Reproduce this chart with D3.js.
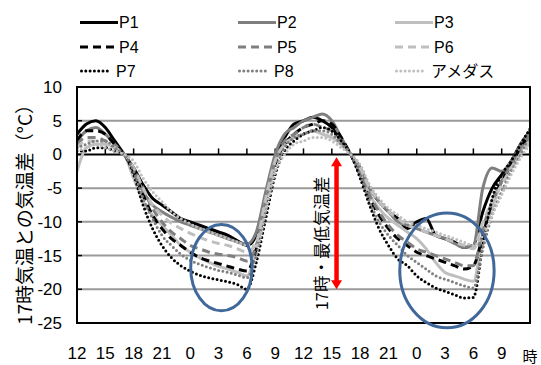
<!DOCTYPE html>
<html><head><meta charset="utf-8">
<script src="https://cdn.jsdelivr.net/npm/d3@7"></script>
<style>
html,body{margin:0;padding:0;background:#fff;}
svg{display:block;}
</style></head>
<body>
<svg id="chart" width="541" height="365"></svg>
<script>
const hours = [0,1,2,3,4,5,6,7,8,9,10,11,12,13,14,15,16,17,18,19,20,21,22,23,24,25,26,27,28,29,30,31,32,33,34,35,36,37,38,39,40,41,42,43,44,45,46,47,48];
const hourLabels = ["12","15","18","21","0","3","6","9","12","15","18","21","0","3","6","9","時"];
const yTicks = [10,5,0,-5,-10,-15,-20,-25];
const seriesNames = ["P1","P2","P3","P4","P5","P6","P7","P8","アメダス"];

const P1 = [3,4.5,5,4,2,0, -2,-4.5,-6.5,-7.5,-8.5,-9.5,-10,-10.5,-11,-11.5,-12,-12.8,-13.5, -12,-6,-0.5,2.5,4.5,5,5.5,5,4,2,0, -2,-5,-7,-8.5,-9.5,-11,-10,-9.5,-12,-12.5,-13,-13.8,-13.5, -8.5,-5,-3,-1,1.5,3.5];
const P2 = [2,3.5,4,3,1.5,0, -2.5,-5.5,-7.5,-8.5,-9.3,-10,-10.5,-11,-11.5,-12,-12.5,-13,-13.3, -11.5,-5.5,0,3,4,5,5.5,6,5,2.5,0, -2,-5,-7,-8.5,-10,-10.5,-11,-11.5,-12,-12.5,-13.2,-13.8,-13.5, -5,-2,-2.5,-1,1.5,3.5];
const P3 = [-2.5,1,1.5,1.5,1,0, -3.5,-7,-9,-10.5,-12,-13.5,-14.5,-15.3,-16,-16.6,-17,-17.5,-18, -14,-7,-1,1.5,2.5,3,3.5,3,2.5,1.5,0, -3,-6,-8,-9.5,-10.5,-11.5,-12.5,-14,-16,-17.5,-18,-18.5,-18.8, -12,-8,-4,-2,0.5,2.5];
const P4 = [2,3.5,3.5,3,1.5,0, -2.5,-6,-9,-11,-12.5,-13.5,-14.5,-15.3,-15.8,-16.2,-16.6,-17,-17.3, -14,-7.5,-1.5,1.5,3,4,4.5,5,4.5,2.5,0, -3,-6.5,-9,-11,-12.5,-13.5,-14.5,-15,-15.5,-16,-16.5,-17,-16.5, -12,-7,-4,-1.5,1,3];
const P5 = [1.5,2.5,2.5,2,1,0, -2,-5,-8,-10,-11.5,-12.5,-13.5,-14,-14.5,-14.8,-15,-15.3,-15.8, -13.5,-7,-1,2,3,4,4.5,4,3.5,2,0, -2.5,-6,-8.5,-10.5,-12,-13,-14,-14.5,-15,-15.5,-16,-16.5,-16.5, -11,-7,-4,-1.5,1,3];
const P6 = [1,2,2,1.5,1,0, -2,-5,-7.5,-9,-10.2,-11,-11.7,-12.3,-12.8,-13.2,-13.5,-14,-14.5, -13,-6.5,-1,1.5,2.5,3,3.5,3,2.5,1.5,0, -2,-5,-7,-8.5,-9.5,-10.5,-11,-11.5,-12,-12.5,-13,-13.5,-14, -10,-7,-4.5,-2,0,2];
const P7 = [0.5,0.5,1,1,0.5,0, -3,-7.5,-11,-13.5,-15.3,-16.5,-17.3,-17.9,-18.3,-18.6,-18.9,-19.3,-20, -16,-9.5,-3,0.5,2,3,3.5,4,3.5,2,0, -3.5,-7.5,-11,-13.5,-15.5,-16.5,-18,-19,-19.8,-20.3,-20.8,-21.3,-21.2, -13.5,-6.5,-3,-1,1.5,3.8];
const P8 = [1,1.5,2,2,1,0, -2.5,-6.5,-9.5,-12,-13.5,-14.8,-15.7,-16.3,-16.8,-17.2,-17.5,-17.9,-18.3, -15,-8.5,-2.5,1,2.5,3,3.5,3.5,3,1.5,0, -3,-7,-10,-12,-13.5,-15,-16,-17,-18,-18.5,-19,-19.5,-19.8, -14,-9,-5.5,-2.5,0,3];
const AMeDAS = [0.5,1,1.5,1,0.5,0, -1,-3.5,-5.5,-7,-8.5,-9.5,-10.3,-11,-11.5,-12,-12.5,-13,-13.5, -13.5,-8,-2.5,0,1.5,2,2.5,2.5,2,1,0, -1.5,-4.5,-6.5,-8,-9,-10,-10.5,-11,-11.5,-12,-12.5,-13,-13.5, -12,-9,-6,-3,-0.5,1.5];

const seriesValues = [P1,P2,P3,P4,P5,P6,P7,P8,AMeDAS];
const colors = ["#000000","#7f7f7f","#bfbfbf","#000000","#7f7f7f","#bfbfbf","#000000","#7f7f7f","#bfbfbf"];
const dashes = [null,null,null,"8,5","8,5","8,5","0,4.3","0,4.3","0,4.3"];

const svg = d3.select("#chart");
const pL = 77, pR = 530, pT = 87, pB = 323;
const x = d3.scaleLinear().domain([0,48]).range([pL,pR]);
const y = d3.scaleLinear().domain([-25,10]).range([pB,pT]);
const numFont = "'Liberation Sans', Arial, sans-serif";
const cjkFont = "'Noto Sans CJK JP', 'Noto Sans CJK SC', sans-serif";

// gridlines
svg.append("g").selectAll("line").data(yTicks.filter(d=>d!==0 && d!==10 && d!==-25)).join("line")
  .attr("x1",pL).attr("x2",pR).attr("y1",d=>y(d)).attr("y2",d=>y(d))
  .attr("stroke","#9a9a9a").attr("stroke-width",2);

// y axis labels
svg.append("g").selectAll("text").data(yTicks).join("text")
  .attr("x",62).attr("y",d=>y(d)).attr("dy","0.35em").attr("text-anchor","end")
  .attr("font-family",numFont).attr("font-size",17).attr("fill","#000").text(d=>d);
// y inner ticks
svg.append("g").selectAll("line").data(yTicks).join("line")
  .attr("x1",pL).attr("x2",pL+5).attr("y1",d=>y(d)).attr("y2",d=>y(d))
  .attr("stroke","#000").attr("stroke-width",1.5);

// x axis (at 0) with upward ticks
const tickHours = hourLabels.map((d,i)=>i*3);
svg.append("line").attr("x1",pL).attr("x2",pR).attr("y1",y(0)).attr("y2",y(0))
  .attr("stroke","#000").attr("stroke-width",2);
svg.append("g").selectAll("line").data(tickHours).join("line")
  .attr("x1",d=>x(d)).attr("x2",d=>x(d)).attr("y1",y(0)).attr("y2",y(0)-6)
  .attr("stroke","#000").attr("stroke-width",1.5);

// x labels
svg.append("g").selectAll("text").data(hourLabels).join("text")
  .attr("x",(d,i)=>x(i*3)).attr("y",359).attr("text-anchor","middle")
  .attr("font-family",(d)=>d==="時"?cjkFont:numFont).attr("font-size",(d)=>d==="時"?15:17)
  .attr("dy",(d)=>d==="時"?3:0)
  .attr("fill","#000").text(d=>d);

// lines
const line = d3.line().x((d,i)=>x(hours[i])).y(d=>y(d)).curve(d3.curveMonotoneX);
svg.append("clipPath").attr("id","pc").append("rect")
  .attr("x",pL).attr("y",pT).attr("width",pR-pL).attr("height",pB-pT);
const lg = svg.append("g").attr("clip-path","url(#pc)");
seriesValues.forEach((vals,k)=>{
  lg.append("path").datum(vals).attr("d",line)
    .attr("fill","none").attr("stroke",colors[k]).attr("stroke-width",3)
    .attr("stroke-linecap",dashes[k]==="0,4.3"?"round":"butt")
    .attr("stroke-linejoin","round")
    .attr("stroke-dasharray",dashes[k]);
});

// plot frame
svg.append("rect").attr("x",pL).attr("y",pT).attr("width",pR-pL).attr("height",pB-pT)
  .attr("fill","none").attr("stroke","#000").attr("stroke-width",2);

// ellipses
const ell = [{h:15.3,v:-16.8,rh:3.25,rv:6.4},{h:39.2,v:-17.2,rh:5.0,rv:8.5}];
svg.append("g").selectAll("ellipse").data(ell).join("ellipse")
  .attr("cx",d=>x(d.h)).attr("cy",d=>y(d.v))
  .attr("rx",d=>x(d.rh)-x(0)).attr("ry",d=>y(0)-y(d.rv))
  .attr("fill","none").attr("stroke","#41689a").attr("stroke-width",3);

// red double arrow
const ax = x(27.5);
const ay1 = y(-0.4), ay2 = y(-20);
svg.append("line").attr("x1",ax).attr("x2",ax).attr("y1",ay1+8).attr("y2",ay2-8)
  .attr("stroke","#ff0000").attr("stroke-width",4.5);
svg.append("path").attr("d",`M${ax},${ay1} L${ax-5.5},${ay1+9} L${ax+5.5},${ay1+9} Z`).attr("fill","#ff0000");
svg.append("path").attr("d",`M${ax},${ay2} L${ax-5.5},${ay2-9} L${ax+5.5},${ay2-9} Z`).attr("fill","#ff0000");
svg.append("text").attr("transform",`translate(${ax-9},${y(-13.2)}) rotate(-90)`)
  .attr("text-anchor","middle").attr("font-family",cjkFont).attr("font-size",16.5)
  .attr("fill","#000").text("17時・最低気温差");

// y title
svg.append("text").attr("transform",`translate(32,${210}) rotate(-90)`)
  .attr("text-anchor","middle").attr("font-family",cjkFont).attr("font-size",19)
  .attr("fill","#000").text("17時気温との気温差（°C）");

// legend
const legCols = [80,238,395], legRows = [22.5,47,71];
seriesNames.forEach((name,k)=>{
  const cx = legCols[k%3], cy = legRows[Math.floor(k/3)];
  const dotted = dashes[k]==="0,4.3";
  svg.append("line").attr("x1",cx+(dotted?1.5:0)).attr("x2",cx+(dotted?31:38)).attr("y1",cy).attr("y2",cy)
    .attr("stroke",colors[k]).attr("stroke-width",3)
    .attr("stroke-linecap",dotted?"round":"butt")
    .attr("stroke-dasharray",dashes[k]);
  svg.append("text").attr("x",cx+(dotted?36:39)).attr("y",cy).attr("dy","0.36em")
    .attr("font-family",name==="アメダス"?cjkFont:numFont).attr("font-size",16)
    .attr("fill","#000").text(name);
});
</script>
</body></html>
